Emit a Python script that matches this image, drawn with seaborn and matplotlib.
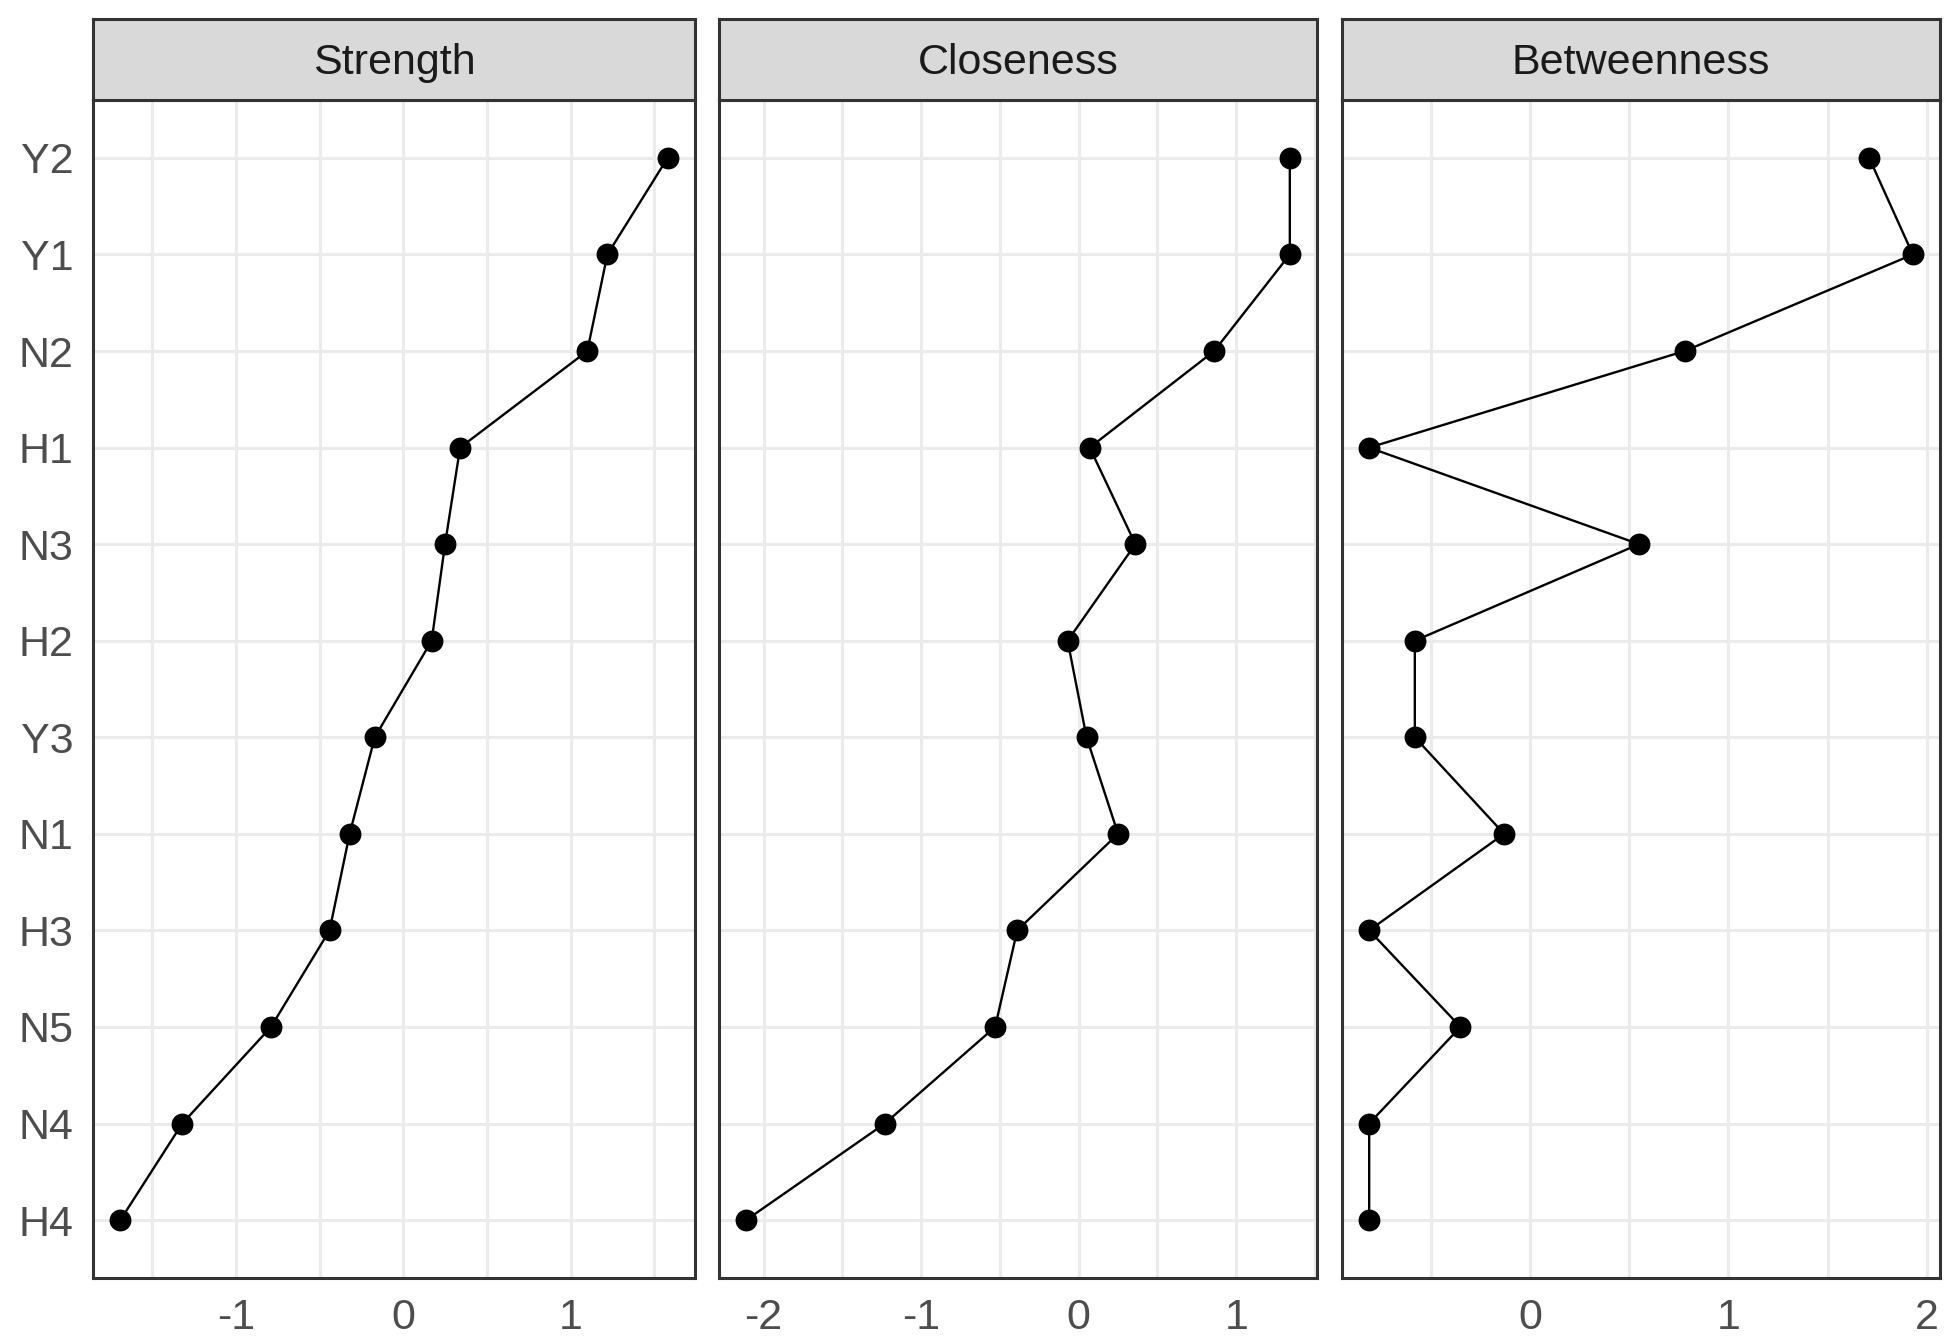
import numpy as np
import pandas as pd
import matplotlib
matplotlib.use("Agg")
import matplotlib.pyplot as plt
from matplotlib.ticker import MultipleLocator, FuncFormatter
import seaborn as sns

sns.set_theme(style="white")
plt.rcParams['font.family'] = ['Liberation Sans', 'DejaVu Sans']

# nodes, bottom to top
nodes = ["H4", "N4", "N5", "H3", "N1", "Y3", "H2", "N3", "H1", "N2", "Y1", "Y2"]
strength = [-1.69, -1.32, -0.79, -0.44, -0.32, -0.17, 0.17, 0.25, 0.34, 1.10, 1.22, 1.58]
closeness = [-2.11, -1.23, -0.53, -0.39, 0.25, 0.05, -0.07, 0.36, 0.07, 0.86, 1.34, 1.34]
betweenness = [-0.81, -0.81, -0.35, -0.81, -0.13, -0.58, -0.58, 0.55, -0.81, 0.78, 1.93, 1.71]
measures = ["Strength", "Closeness", "Betweenness"]

df = pd.concat([
    pd.DataFrame({"node": nodes, "value": vals, "measure": m})
    for m, vals in zip(measures, [strength, closeness, betweenness])
], ignore_index=True)

W, H = 1958, 1343
fig = plt.figure(figsize=(W / 200, H / 200), dpi=200)

panel_x = [(93, 695), (719, 1317), (1342, 1940)]
panel_top, panel_bot, strip_top = 100, 1278, 19

grey20 = "#333333"
grid_c = "#EBEBEB"
fs = 15.5


def fmt(v, p):
    if abs(v) < 1e-9:
        return "0"
    return f"{v:.0f}"


for i, (m, (x0, x1)) in enumerate(zip(measures, panel_x)):
    ax = fig.add_axes([x0 / W, (H - panel_bot) / H, (x1 - x0) / W, (panel_bot - panel_top) / H])
    sub = df[df["measure"] == m]
    sns.lineplot(data=sub, x="value", y="node", sort=False, estimator=None,
                 orient="y", color="black", linewidth=0.85, ax=ax, zorder=3)
    sns.scatterplot(data=sub, x="value", y="node", color="black", s=62,
                    edgecolor="black", linewidth=0, ax=ax, zorder=4)
    vmin, vmax = sub["value"].min(), sub["value"].max()
    pad = 0.05 * (vmax - vmin)
    ax.set_xlim(vmin - pad, vmax + pad)
    ax.set_ylim(-0.6, len(nodes) - 1 + 0.6)
    ax.xaxis.set_major_locator(MultipleLocator(1))
    ax.xaxis.set_minor_locator(MultipleLocator(0.5))
    ax.xaxis.set_major_formatter(FuncFormatter(fmt))
    ax.grid(True, which="major", color=grid_c, linewidth=1.1, zorder=0)
    ax.grid(True, which="minor", axis="x", color=grid_c, linewidth=1.1, zorder=0)
    ax.set_axisbelow(True)
    ax.set_xlabel("")
    ax.set_ylabel("")
    for sp in ax.spines.values():
        sp.set_color(grey20)
        sp.set_linewidth(1.1)
    ax.tick_params(axis="both", which="major", length=3.6, width=0.9, color=grey20,
                   labelsize=fs, labelcolor="#4D4D4D", pad=3.5, direction="out")
    ax.tick_params(axis="x", which="minor", length=0)
    ax.set_yticks(range(len(nodes)))
    if i == 0:
        ax.set_yticklabels(nodes)
    else:
        ax.tick_params(axis="y", left=False, labelleft=False)
    ax.set_facecolor("white")

    sax = fig.add_axes([x0 / W, (H - panel_top) / H, (x1 - x0) / W, (panel_top - strip_top) / H])
    sax.set_facecolor("#D9D9D9")
    sax.set_xticks([])
    sax.set_yticks([])
    for sp in sax.spines.values():
        sp.set_color(grey20)
        sp.set_linewidth(1.1)
    sax.text(0.5, 0.46, m, ha="center", va="center", fontsize=fs, color="#1A1A1A",
             transform=sax.transAxes)

fig.savefig("out.png", dpi=200, facecolor="white")
